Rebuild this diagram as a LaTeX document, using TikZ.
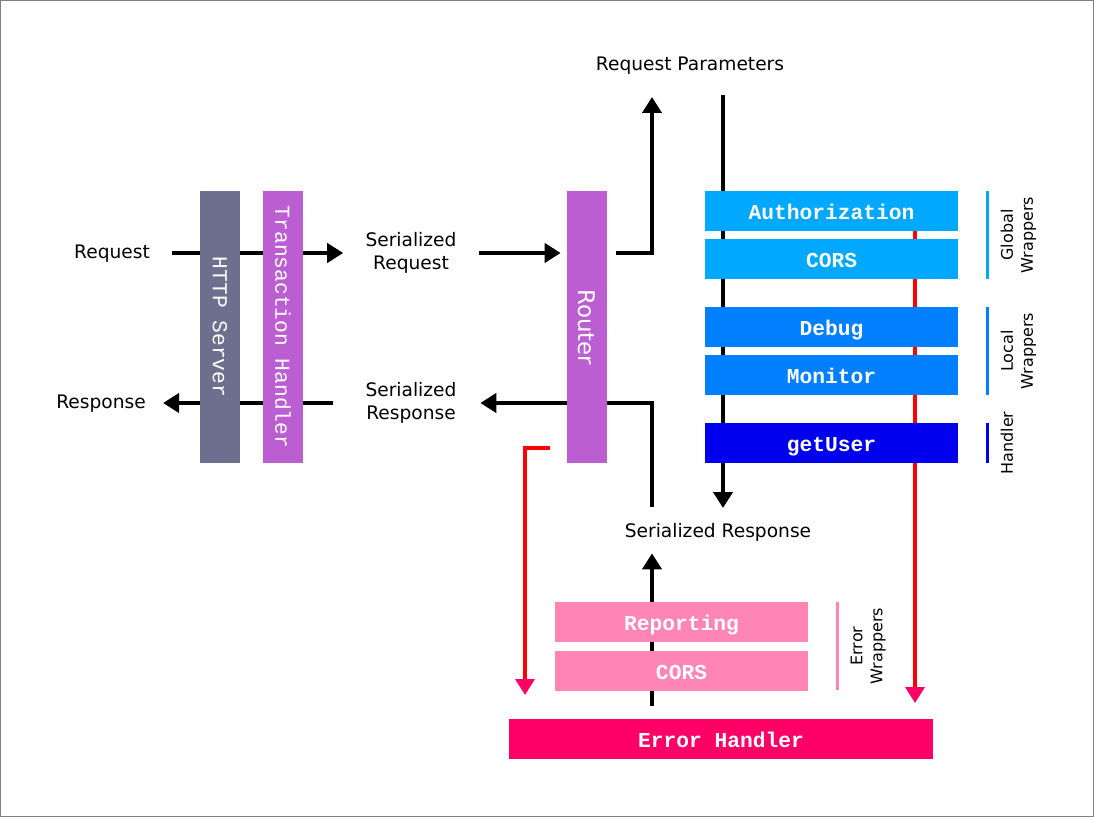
\documentclass[tikz,border=0pt]{standalone}
\usepackage{fontspec}
\setmainfont{DejaVu Sans}
\newfontfamily\monofont{Liberation Mono}
\usetikzlibrary{arrows.meta}

\definecolor{servergray}{RGB}{110,110,142}
\definecolor{layerpurple}{RGB}{187,94,209}
\definecolor{globalblue}{RGB}{0,168,255}
\definecolor{localblue}{RGB}{0,128,255}
\definecolor{handlerblue}{RGB}{0,0,238}
\definecolor{errorrose}{RGB}{255,133,180}
\definecolor{errorpink}{RGB}{255,0,102}
\definecolor{faultred}{RGB}{255,0,0}
\definecolor{framegray}{RGB}{128,128,128}

\newcommand\labelfont{\fontsize{10.6}{13.1}\selectfont}
\newcommand\boxfont{\monofont\fontsize{12.1}{14.5}\selectfont}
\newcommand\smallfont{\fontsize{9.1}{11.4}\selectfont}

\pgfdeclarelayer{bg}
\pgfsetlayers{bg,main}

\begin{document}
\begin{tikzpicture}[x=0.02cm, y=-0.02cm,
  every node/.style={inner sep=0pt, font=\labelfont},
  layer/.style={minimum width=0.8cm, minimum height=5.44cm},
  layertitle/.style={rotate=-90, text=white},
  wrapper/.style={minimum width=5.06cm, minimum height=0.8cm, text height=10pt, text depth=0pt,
    text=white, font=\boxfont\bfseries},
  bar/.style={minimum width=0.06cm, minimum height=1.76cm},
  grouplabel/.style={rotate=90, anchor=north, align=center, font=\smallfont},
  flow/.style={line width=0.08cm, -{Triangle[length=0.32cm, width=0.38cm]}},
  fault/.style={line width=0.07cm, draw=faultred, -{Triangle[length=0.32cm, width=0.38cm, color=errorpink]}}]

  % frame
  \useasboundingbox (0,0) rectangle (1094,817);
  \draw[framegray, line width=0.03cm] (0.75,0.75) rectangle (1093.25,816.25);

  % outer layers
  \node (http) [layer, fill=servergray,
    label={[layertitle, font=\boxfont]center:HTTP Server}] at (220,327) {};
  \node (trans) [layer, fill=layerpurple,
    label={[layertitle, font=\boxfont]center:Transaction Handler}] at (283,327) {};
  \node (router) [layer, fill=layerpurple,
    label={[layertitle, font=\fontsize{13}{15}\selectfont]center:Router}] at (586.5,327) {};

  % messages
  \node (req) at (112,254) {Request};
  \node (resp) at (101,404) {Response};
  \node (serreq) [align=center] at (411,253) {Serialized\\Request};
  \node (serresp) [align=center] at (411,403) {Serialized\\Response};
  \node (params) at (690,66) {Request Parameters};
  \node (serresp2) at (718,532) {Serialized Response};

  % wrappers and handler
  \node (auth) [wrapper, fill=globalblue] at (831.5,211) {Authorization};
  \node (gcors) [wrapper, fill=globalblue] at (831.5,259) {CORS};
  \node (debug) [wrapper, fill=localblue] at (831.5,327) {Debug};
  \node (monitor) [wrapper, fill=localblue] at (831.5,375) {Monitor};
  \node (getuser) [wrapper, fill=handlerblue] at (831.5,443) {getUser};

  % error side
  \node (report) [wrapper, fill=errorrose] at (681.5,622) {Reporting};
  \node (ecors) [wrapper, fill=errorrose] at (681.5,670.5) {CORS};
  \node (errh) [wrapper, minimum width=8.48cm, fill=errorpink] at (721,738.5) {Error Handler};

  % group bars
  \node (gbar) [bar, fill=globalblue] at (987.5,235) {};
  \node (lbar) [bar, fill=localblue] at (987.5,351) {};
  \node (hbar) [bar, minimum height=0.8cm, fill=handlerblue] at (987.5,443) {};
  \node (ebar) [bar, fill=errorrose] at (837.5,646) {};
  \node (glab) [grouplabel] at ([xshift=0.22cm]gbar.east) {Global\\Wrappers};
  \node (llab) [grouplabel] at ([xshift=0.22cm]lbar.east) {Local\\Wrappers};
  \node (hlab) [grouplabel] at ([xshift=0.22cm]hbar.east) {Handler};
  \node (elab) [grouplabel] at ([xshift=0.22cm]ebar.east) {Error\\Wrappers};

  % free ends of the paths
  \coordinate (parup) at (652,97);
  \coordinate (pardown) at (723,95);
  \coordinate (retdown) at (723,508);
  \coordinate (retup) at (652,507);
  \coordinate (errup) at (652,706);
  \coordinate (routerfail) at (550,448);
  \coordinate (failleft) at (525,695);
  \coordinate (failright) at (915,703);

  % paths run behind the boxes
  \begin{pgfonlayer}{bg}
    \draw[flow, shorten <=0.44cm, shorten >=0.44cm] (req.east |- serreq) -- (serreq.west);
    \draw[flow, shorten <=0.45cm, shorten >=0.11cm] (serreq.east) -- (serreq.east -| router.west);
    \draw[flow, shorten <=0.19cm] (serreq.east -| router.east) -| (parup);
    \draw[flow] (pardown) -- (retdown);
    \draw[flow, shorten >=0.47cm] (retup) |- (serresp.east);
    \draw[flow, shorten <=0.65cm, shorten >=0.34cm] (serresp.west) -- (resp.east |- serresp);
    \draw[flow, shorten >=0.24cm] (errup) -- (errup |- serresp2.south);
    \draw[fault] (routerfail) -| (failleft);
    \draw[fault] (auth -| failright) -- (failright);
  \end{pgfonlayer}
\end{tikzpicture}
\end{document}
